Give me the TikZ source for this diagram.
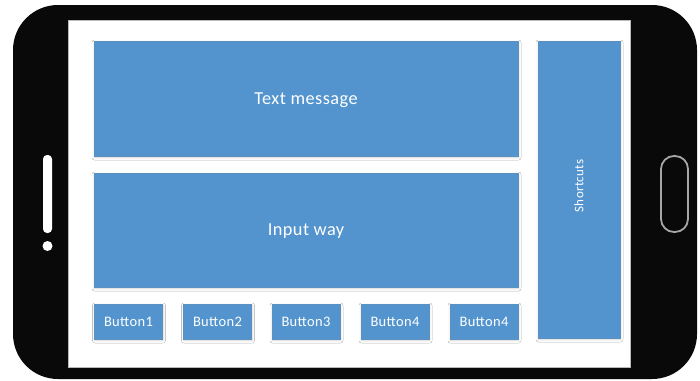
\documentclass[tikz,border=0pt]{standalone}
\usepackage{fontspec}
\setmainfont[LetterSpace=2.5]{Carlito}
\usetikzlibrary{shadows.blur}
\definecolor{panelblue}{RGB}{83,148,206}
\definecolor{phoneblack}{RGB}{10,9,10}
\tikzset{
  panel/.style={fill=panelblue, draw=panelblue!80!gray, line width=0.6pt,
    inner sep=0pt, text=white, text depth=0pt,
    blur shadow={shadow xshift=0.5pt, shadow yshift=-1.5pt,
      shadow blur steps=6, shadow blur radius=2.5pt, shadow opacity=18}},
  bigpanel/.style={panel, minimum width=424pt, minimum height=115pt, font=\fontsize{18.3}{20}\selectfont},
  btn/.style={panel, minimum width=68pt, minimum height=35pt, font=\fontsize{14.5}{16}\selectfont},
}
\begin{document}
\begin{tikzpicture}[x=1pt, y=-1pt]
  \useasboundingbox (0,0) rectangle (700,380);
  % phone body
  \fill[phoneblack, rounded corners=45pt] (13,5) rectangle (697,379);
  % screen
  \fill[white, draw=gray!55, line width=0.8pt] (68,20) rectangle (630,367);
  % side slider and dot
  \fill[white, rounded corners=4pt] (43,155) rectangle (52,233);
  \fill[white] (47.5,246) circle (5pt);
  % home button
  \draw[gray!70, line width=1.8pt, rounded corners=13pt] (661,156) rectangle (688,232);
  % panels
  \node[bigpanel] (msg) at (306,98.5) {Text message};
  \node[bigpanel, minimum height=114pt] (input) at (306,230) {Input way};
  \node[btn] (b1) at (128.5,321.5) {Button1};
  \node[btn] (b2) at (217.5,321.5) {Button2};
  \node[btn] (b3) at (306,321.5) {Button3};
  \node[btn] (b4) at (395,321.5) {Button4};
  \node[btn] (b5) at (484,321.5) {Button4};
  \node[panel, minimum width=82pt, minimum height=297pt] (short) at (579,189.5) {};
  \node[rotate=90, text=white, font=\fontsize{13}{15}\selectfont, inner sep=0pt] (shortlbl) at (579,186) {Shortcuts};
\end{tikzpicture}
\end{document}
